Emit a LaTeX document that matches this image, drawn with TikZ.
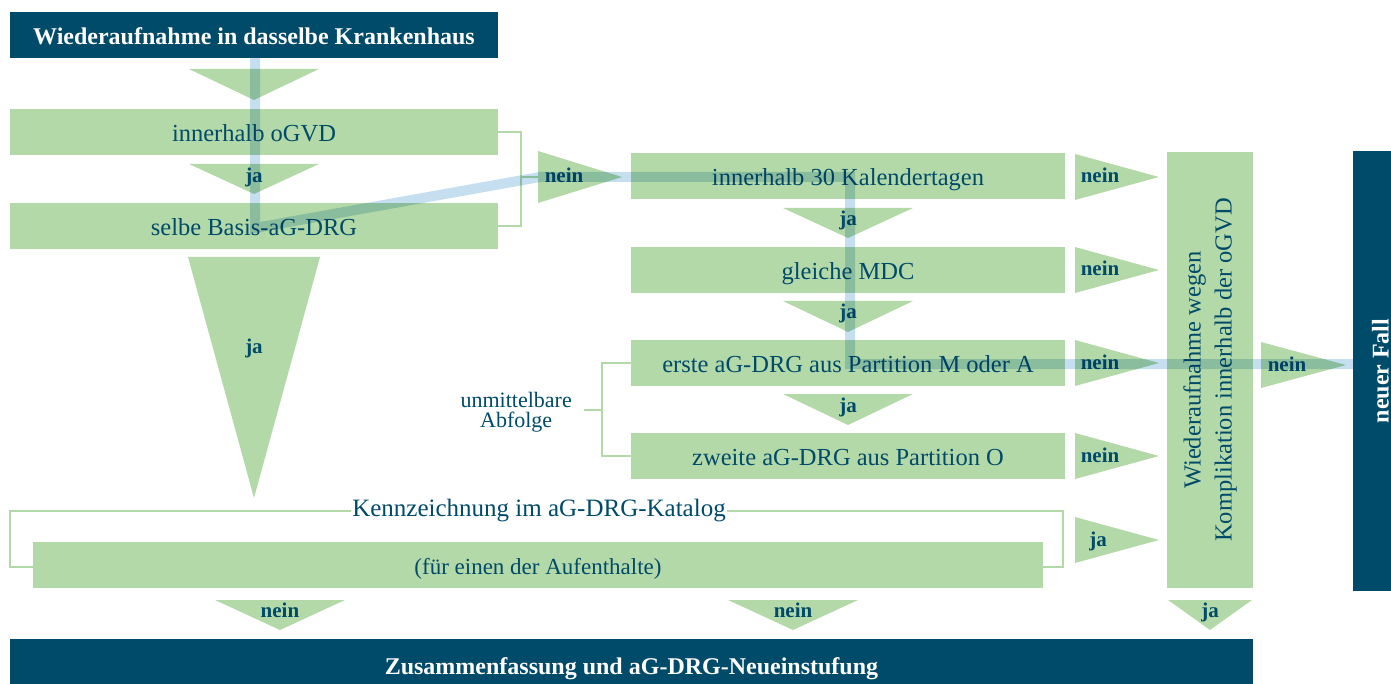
\documentclass[tikz,border=0pt]{standalone}
\usepackage{fontspec}
\setmainfont{Liberation Serif}
\definecolor{navy}{RGB}{0,74,106}
\definecolor{leaf}{RGB}{179,217,168}
\definecolor{route}{RGB}{197,223,240}
\tikzset{
  box/.style={fill=leaf, text=navy, inner sep=0pt, text height=19pt, text depth=0pt,
    font=\fontsize{24.5}{28}\selectfont},
  head/.style={fill=navy, text=white, inner sep=0pt, text height=19pt, text depth=0pt,
    font=\bfseries\fontsize{24}{28}\selectfont},
  lbl/.style={text=navy, inner sep=0pt, anchor=base, font=\bfseries\fontsize{21}{24}\selectfont},
  arr/.style={fill=leaf},
  brk/.style={draw=leaf, line width=2.5pt},
  route/.style={draw=route, line width=10pt, line join=miter, blend mode=multiply}
}
% downward arrow head: centre x, top y, half width, height
\newcommand\downhead[4]{\fill[arr] (#1-#3,#2) -- (#1+#3,#2) -- (#1,#2+#4) -- cycle;}
% rightward arrow head: base x, centre y, length, half height
\newcommand\righthead[4]{\fill[arr] (#1,#2-#4) -- (#1,#2+#4) -- (#1+#3,#2) -- cycle;}
\begin{document}
\begin{tikzpicture}[x=1pt,y=-1pt]
\useasboundingbox (0,0) rectangle (1391,684);

% left column
\node[head, minimum width=488pt, minimum height=46pt] (top) at (254,35) {Wiederaufnahme in dasselbe Krankenhaus};
\node[box, minimum width=488pt, minimum height=46pt] (ogvd) at (254,132) {innerhalb oGVD};
\node[box, minimum width=488pt, minimum height=46pt] (basis) at (254,226) {selbe Basis-aG-DRG};
\downhead{254}{69}{65}{31}
\downhead{254}{164}{65}{30}
\node[lbl] (ja1) at (254,183) {ja};
\downhead{254}{257}{66}{241}
\node[lbl] (ja2) at (254,353) {ja};

% bracket joining the first two checks
\coordinate (br1) at (521,177);
\draw[brk] (ogvd.east) -- ++(23,0) |- (basis.east);
\righthead{538}{177}{84}{26}
\coordinate (r0) at (538,177);
\draw[brk] (br1) -- (r0);
\node[lbl] (nein0) at (564,183) {nein};

% middle column
\node[box, minimum width=434pt, minimum height=46pt] (kal) at (848,176) {innerhalb 30 Kalendertagen};
\node[box, minimum width=434pt, minimum height=46pt] (mdc) at (848,270) {gleiche MDC};
\node[box, minimum width=434pt, minimum height=46pt] (erste) at (848,363) {erste aG-DRG aus Partition M oder A};
\node[box, minimum width=434pt, minimum height=46pt] (zweite) at (848,456) {zweite aG-DRG aus Partition O};
\downhead{848}{208}{65}{30}
\node[lbl] (ja3) at (848,226) {ja};
\downhead{848}{301}{65}{31}
\node[lbl] (ja4) at (848,319) {ja};
\downhead{848}{394}{65}{31}
\node[lbl] (ja5) at (848,412) {ja};

% bracket for the successive partitions
\draw[brk] (erste.west) -- ++(-29,0) |- (zweite.west);
\coordinate (br2) at (602,410);
\node[text=navy, inner sep=0pt, align=center, font=\fontsize{22}{20}\selectfont, anchor=east] (abfolge) at (572,412) {unmittelbare\\Abfolge};
\draw[brk] (br2) -- ++(-18,0);

% catalogue check
\node[box, minimum width=1010pt, minimum height=46pt, font=\fontsize{23}{26}\selectfont] (fuer) at (538,565) {(für einen der Aufenthalte)};
\node[text=navy, inner sep=1pt, font=\fontsize{25}{28}\selectfont] (kenn) at (539,511) {Kennzeichnung im aG-DRG-Katalog};
\coordinate (kl) at (10,567);
\coordinate (kr) at (1063,567);
\draw[brk] (kenn.west) -| (kl) -- (fuer.west |- kl);
\draw[brk] (kenn.east) -| (kr) -- (fuer.east |- kr);

% arrow heads into the complication check
\foreach \yy in {177, 270, 363, 456, 540}{
  \righthead{1075}{\yy}{84}{23}
}
\node[lbl] (nein1) at (1100,183) {nein};
\node[lbl] (nein2) at (1100,276) {nein};
\node[lbl] (nein3) at (1100,369) {nein};
\node[lbl] (nein4) at (1100,462) {nein};
\node[lbl] (ja6) at (1098,546) {ja};

\node[box, rotate=90, minimum width=436pt, minimum height=86pt, align=center,
  text height=, text depth=, font=\fontsize{24.5}{31}\selectfont] (komp) at (1210,370)
  {Wiederaufnahme wegen\\Komplikation innerhalb der oGVD};

\righthead{1261}{365}{85}{23}
\node[lbl] (nein5) at (1287,371) {nein};
\node[head, rotate=90, minimum width=440pt, minimum height=54pt, text height=17pt] (neu) at (1380,371) {neuer Fall};

% arrow heads into the final step
\downhead{280}{600}{65}{30}
\node[lbl] (nein6) at (280,617) {nein};
\downhead{793}{600}{65}{30}
\node[lbl] (nein7) at (793,617) {nein};
\downhead{1210}{600}{42}{30}
\node[lbl] (ja7) at (1210,617) {ja};
\node[head, minimum width=1243pt, minimum height=51pt] (zus) at (631.5,664.5) {Zusammenfassung und aG-DRG-Neueinstufung};

% highlighted decision route
\draw[route] (top.south -| 255,0) -- (255,228) -- (540,177) -- (850,177) -- (850,364) -- (neu.north |- 0,364);
\end{tikzpicture}
\end{document}
